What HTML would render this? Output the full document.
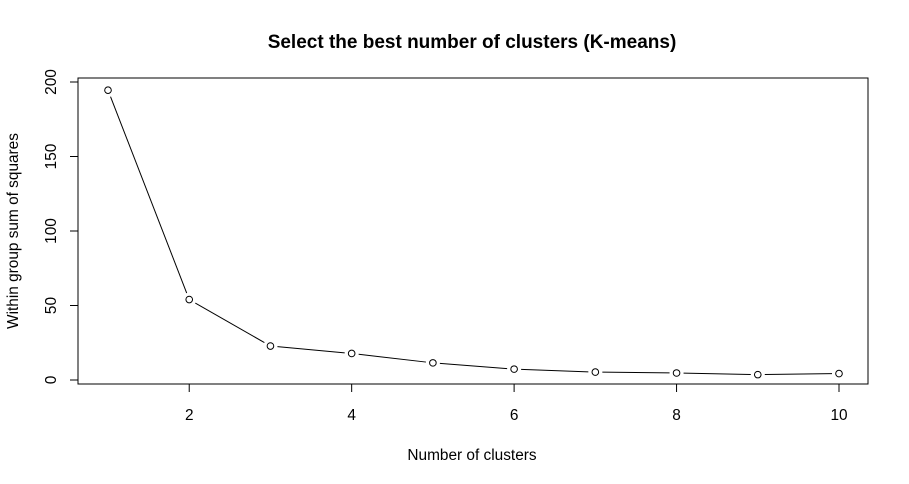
<!DOCTYPE html>
<html><head><meta charset="utf-8"><style>
body{margin:0;background:#fff;}
svg{display:block;font-family:"Liberation Sans",Arial,sans-serif;}
</style></head><body>
<svg id="chart" width="909" height="484" viewBox="0 0 909 484">
<rect width="909" height="484" fill="#fff"/>
<text x="472" y="48" text-anchor="middle" font-size="19" font-weight="bold">Select the best number of clusters (K-means)</text>
<rect x="78" y="78" width="790" height="306" fill="none" stroke="#000" stroke-width="1"/>
<text x="472" y="460" text-anchor="middle" font-size="15.4">Number of clusters</text>
<text transform="translate(18,231) rotate(-90)" text-anchor="middle" font-size="15.4">Within group sum of squares</text>
<g id="axes"></g>
<g id="series"></g>
</svg>
<script>
const clusters=[1,2,3,4,5,6,7,8,9,10];
const wss=[194.5,54,22.8,17.8,11.5,7.3,5.3,4.7,3.6,4.3];
const xTicks=[2,4,6,8,10];
const yTicks=[0,50,100,150,200];
const NS="http://www.w3.org/2000/svg";
function xs(v){return 108+(v-1)*(839-108)/9;}
function ys(v){return 380-v*(380-82)/200;}
function mk(t,a,p){const e=document.createElementNS(NS,t);for(const k in a)e.setAttribute(k,a[k]);p.appendChild(e);return e;}
const ax=document.getElementById('axes');
xTicks.forEach(t=>{
 const l=mk('line',{x1:xs(t),x2:xs(t),y1:384,y2:392,stroke:'#000'},ax);
 
 
 const tx=mk('text',{x:xs(t),y:420,'text-anchor':'middle','font-size':'15.4'},ax);tx.textContent=t;
 
 
});
yTicks.forEach(t=>{
 const l=mk('line',{x1:70,x2:78,y1:ys(t),y2:ys(t),stroke:'#000'},ax);
 
 
 const tx=mk('text',{x:0,y:0,transform:`translate(56,${ys(t)}) rotate(-90)`,'text-anchor':'middle','font-size':'15.4'},ax);tx.textContent=t;
 
 
});
const sg=document.getElementById('series');
const gap=7;
for(let i=0;i<clusters.length-1;i++){
 const x1=xs(clusters[i]),y1=ys(wss[i]),x2=xs(clusters[i+1]),y2=ys(wss[i+1]);
 const d=Math.hypot(x2-x1,y2-y1);if(d<=2*gap)continue;
 const ux=(x2-x1)/d,uy=(y2-y1)/d;
 const l=mk('line',{x1:x1+ux*gap,y1:y1+uy*gap,x2:x2-ux*gap,y2:y2-uy*gap,stroke:'#000','stroke-width':1},sg);
 
 
}
clusters.forEach((c,i)=>{
 const p=mk('circle',{cx:xs(c),cy:ys(wss[i]),r:3.3,fill:'#fff',stroke:'#000','stroke-width':1},sg);
 
 
});
</script>
</body></html>
